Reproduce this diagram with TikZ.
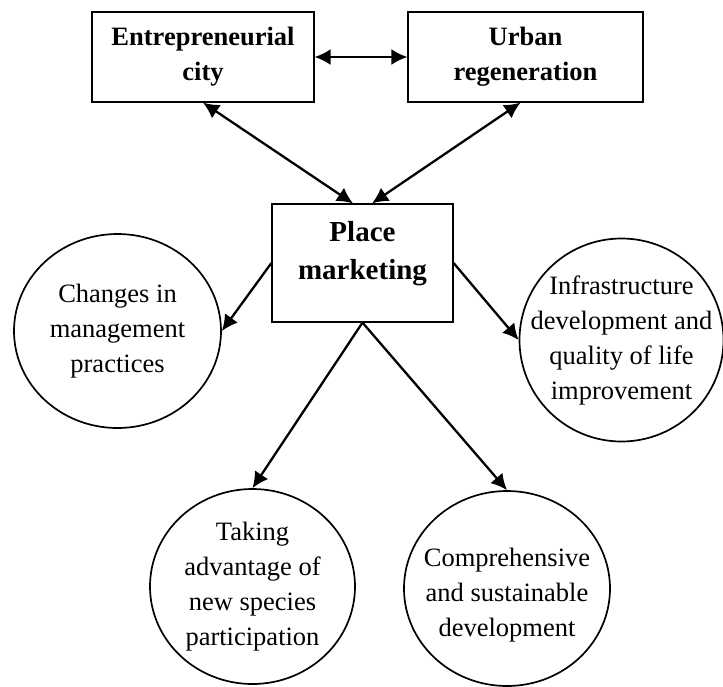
\documentclass[tikz,border=0pt]{standalone}
\usepackage{fontspec}
\setmainfont{Liberation Serif}
\usetikzlibrary{arrows.meta,shapes.geometric}

\begin{document}
\begin{tikzpicture}[x=1pt,y=-1pt,line width=2.3pt,>={Latex[length=16pt,width=16pt]},
  topbox/.style={draw,line width=1.2pt,minimum height=90pt,align=center,font=\fontsize{26.5}{35}\selectfont\bfseries},
  effect/.style={draw,ellipse,line width=1.7pt,inner sep=0pt},
  efftext/.style={align=center,font=\fontsize{26.5}{35}\selectfont}]
  \useasboundingbox (0,0) rectangle (723,686);
  \node[topbox,minimum width=222pt] (ent) at (203,57) {Entrepreneurial\\city};
  \node[topbox,minimum width=235pt] (urb) at (525.5,57) {Urban\\regeneration};
  \node[draw,line width=1.2pt,minimum width=181pt,minimum height=118pt,
    label={[align=center,font=\fontsize{29}{38}\selectfont\bfseries,yshift=9pt]center:{Place\\marketing}}] (pm) at (362.5,263) {};
  \node[effect,minimum width=207pt,minimum height=194pt,
    label={[efftext]center:{Changes in\\management\\practices}}] (chg) at (117.5,331) {};
  \node[effect,minimum width=204pt,minimum height=203pt,
    label={[efftext]center:{Infrastructure\\development and\\quality of life\\improvement}}] (infra) at (621.5,340) {};
  \node[effect,minimum width=205pt,minimum height=195pt,
    label={[efftext]center:{Taking\\advantage of\\new species\\participation}}] (take) at (252.5,586.5) {};
  \node[effect,minimum width=206pt,minimum height=195pt,
    label={[efftext,yshift=-7pt]center:{Comprehensive\\and sustainable\\development}}] (comp) at (507,588.5) {};
  \draw[<->] (ent) -- (urb);
  \draw[<->] (ent.south) -- ([xshift=-9.5pt]pm.north);
  \draw[<->] ([xshift=-5pt]urb.south) -- ([xshift=9.5pt]pm.north);
  \draw[->] (pm.west) -- (chg.east);
  \draw[->] (pm.east) -- (infra.west);
  \draw[->] (pm.south) -- (take.north);
  \draw[->] (pm.south) -- (comp.north);
\end{tikzpicture}
\end{document}
